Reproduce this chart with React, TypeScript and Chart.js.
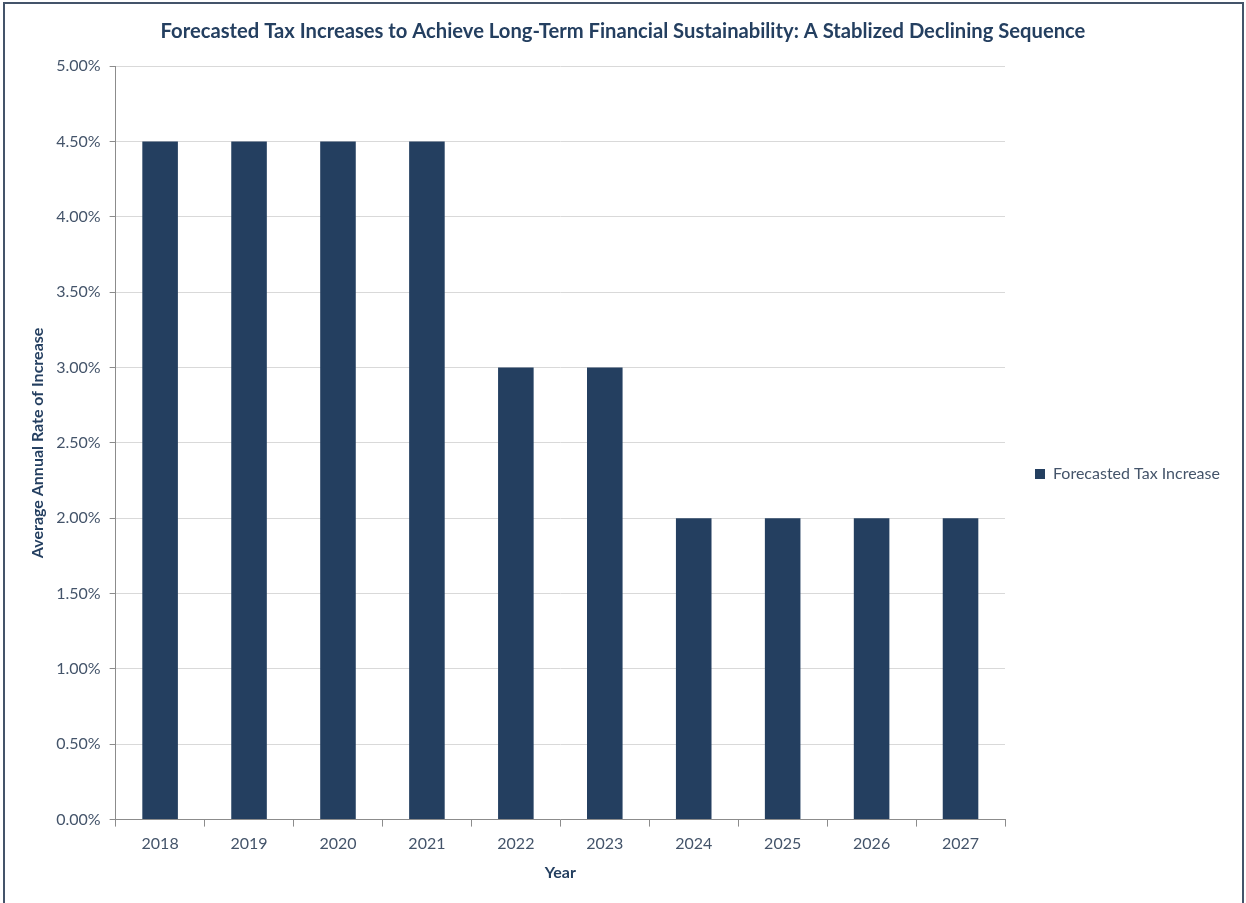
import React, { useEffect, useRef } from "react";
import { Chart, registerables } from "chart.js";

Chart.register(...registerables);

const years = ["2018", "2019", "2020", "2021", "2022", "2023", "2024", "2025", "2026", "2027"];
const taxIncrease = [4.5, 4.5, 4.5, 4.5, 3.0, 3.0, 2.0, 2.0, 2.0, 2.0];
const seriesLabel = "Forecasted Tax Increase";
const chartTitle = "Forecasted Tax Increases to Achieve Long-Term Financial Sustainability: A Stablized Declining Sequence";
const yAxisTitle = "Average Annual Rate of Increase";
const xAxisTitle = "Year";

const FONT = "Lato";
const BAR = "#243F60";
const TEXT = "#44546A";
const DARK = "#243F60";
const AXIS = "#8C8C8C";
const GRID = "#D9D9D9";

export default function App() {
  const ref = useRef<HTMLCanvasElement | null>(null);

  useEffect(() => {
    document.body.style.margin = "0";
    document.body.style.overflow = "hidden";
    const canvas = ref.current!;
    const ctx = canvas.getContext("2d")!;
    ctx.font = `16px ${FONT}`;
    const tw = ctx.measureText(seriesLabel).width;
    const legendPad = 30;
    const legendW = legendPad + 10 + 8 + tw + 10;
    const padSide = Math.min(28, Math.max(0, 1246 - 1005 - legendW));

    const chart = new Chart(canvas, {
      type: "bar",
      data: {
        labels: years,
        datasets: [
          {
            label: seriesLabel,
            data: taxIncrease,
            backgroundColor: BAR,
            borderWidth: 0,
            barPercentage: 0.4,
            categoryPercentage: 1,
          },
        ],
      },
      options: {
        responsive: false,
        animation: false,
        devicePixelRatio: 1,
        layout: { padding: { top: 0, left: padSide, right: padSide, bottom: 12 } },
        plugins: {
          title: {
            display: true,
            text: chartTitle,
            color: DARK,
            font: { family: FONT, size: 20.2, weight: "bold" },
            padding: { top: 19, bottom: 23 },
          },
          legend: {
            display: true,
            position: "right",
            labels: {
              boxWidth: 10,
              boxHeight: 10,
              padding: legendPad,
              color: TEXT,
              font: { family: FONT, size: 16 },
            },
          },
          tooltip: { enabled: false },
        },
        scales: {
          x: {
            grid: {
              display: true,
              drawOnChartArea: false,
              drawTicks: true,
              tickLength: 7,
              color: AXIS,
              offset: true,
            },
            border: { display: true, color: AXIS, width: 1 },
            ticks: {
              color: TEXT,
              font: { family: FONT, size: 16 },
              padding: 8,
              maxRotation: 0,
            },
            title: {
              display: true,
              text: xAxisTitle,
              color: DARK,
              font: { family: FONT, size: 16, weight: "bold" },
              padding: { top: 1, bottom: 66 },
            },
          },
          y: {
            min: 0,
            max: 5,
            grid: {
              color: GRID,
              tickColor: AXIS,
              tickLength: 6,
              drawTicks: true,
            },
            border: { display: true, color: AXIS, width: 1 },
            ticks: {
              stepSize: 0.5,
              color: TEXT,
              font: { family: FONT, size: 16 },
              padding: 9,
              callback: (v: any) => Number(v).toFixed(2) + "%",
            },
            title: {
              display: true,
              text: yAxisTitle,
              color: DARK,
              font: { family: FONT, size: 16, weight: "bold" },
              padding: { top: 28 - padSide, bottom: 0 },
            },
          },
        },
      },
    });
    return () => chart.destroy();
  }, []);

  return (
    <div style={{ position: "relative", width: 1246, height: 903, overflow: "hidden" }}>
      <canvas ref={ref} width={1246} height={960} style={{ display: "block" }} />
      <div
        style={{
          position: "absolute",
          left: 3,
          top: 2,
          width: 1237,
          height: 1000,
          border: "2px solid #44546A",
          pointerEvents: "none",
        }}
      />
    </div>
  );
}
